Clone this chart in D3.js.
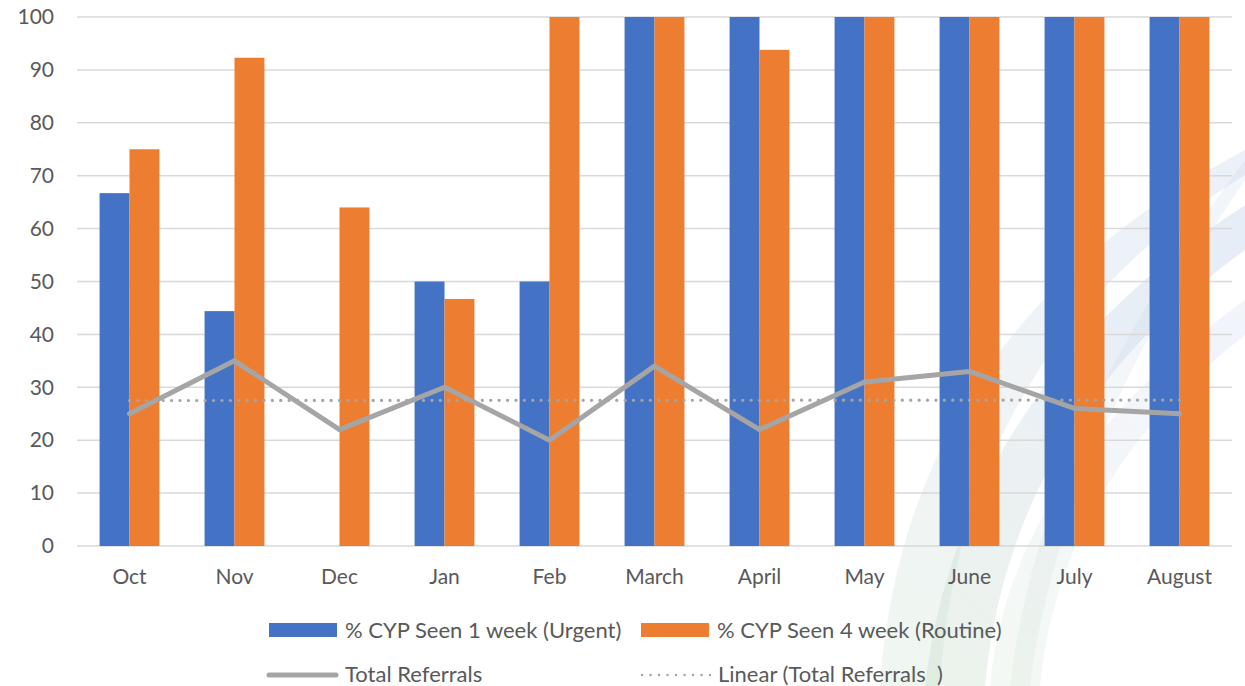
<!DOCTYPE html>
<html>
<head>
<meta charset="utf-8">
<script src="https://cdn.jsdelivr.net/npm/d3@7/dist/d3.min.js"></script>
<style>
  html, body { margin: 0; padding: 0; background: #fff; }
  svg { display: block; }
  text { font-family: Lato, "Open Sans", sans-serif; fill: #595959; }
</style>
</head>
<body>
<svg id="chart" width="1245" height="686"></svg>
<script>
const categories = ["Oct", "Nov", "Dec", "Jan", "Feb", "March", "April", "May", "June", "July", "August"];
const urgent = [66.7, 44.4, 0, 50, 50, 100, 100, 100, 100, 100, 100];
const routine = [75, 92.3, 64, 46.7, 100, 100, 93.8, 100, 100, 100, 100];
const referrals = [25, 35, 22, 30, 20, 34, 22, 31, 33, 26, 25];
const yTicks = [0, 10, 20, 30, 40, 50, 60, 70, 80, 90, 100];
const seriesNames = ["% CYP Seen 1 week (Urgent)", "% CYP Seen 4 week (Routine)"];
const lineNames = ["Total Referrals", "Linear (Total Referrals  )"];

const W = 1245, H = 686;
const svg = d3.select("#chart");

// decorative background swooshes
const defs = svg.append("defs");
const grad = defs.append("linearGradient").attr("id", "sw").attr("x1", 0).attr("y1", 1).attr("x2", 0.6).attr("y2", 0);
grad.append("stop").attr("offset", "0%").attr("stop-color", "#b9d6b9");
grad.append("stop").attr("offset", "55%").attr("stop-color", "#b8cbd8");
grad.append("stop").attr("offset", "100%").attr("stop-color", "#a9bfe3");
const bg = svg.append("g");
const swooshes = [
  {d: "M880,686 Q905,330 1245,150 L1245,175 Q960,350 940,686 Z", o: 0.22},
  {d: "M925,686 Q960,390 1245,205 L1245,250 Q1010,420 985,686 Z", o: 0.28},
  {d: "M990,686 Q1010,470 1245,300 L1245,335 Q1060,480 1040,686 Z", o: 0.16},
  {d: "M1010,686 Q1040,430 1245,160 L1245,180 Q1060,450 1030,686 Z", o: 0.15}
];
bg.selectAll("path").data(swooshes).join("path")
  .attr("d", d => d.d).attr("fill", "url(#sw)").attr("opacity", d => d.o);

const x0 = d3.scaleBand().domain(categories).range([77, 1232]).paddingInner(0.43).paddingOuter(0.215);
const x1 = d3.scaleBand().domain([0, 1]).range([0, x0.bandwidth()]);
const y = d3.scaleLinear().domain([0, 100]).range([546, 17]);

// gridlines
svg.append("g").selectAll("line").data(yTicks).join("line")
  .attr("x1", 77).attr("x2", 1232)
  .attr("y1", d => y(d)).attr("y2", d => y(d))
  .attr("stroke", "#d9d9d9").attr("stroke-width", 1.5);

// y axis labels
const yAxis = d3.axisLeft(y).tickValues(yTicks).tickSize(0).tickPadding(0);
const ya = svg.append("g").attr("transform", "translate(54,0)").call(yAxis);
ya.select(".domain").remove();
ya.selectAll("text").attr("font-size", 21).attr("fill", "#595959").style("font-family", "Lato, sans-serif");

// bars
const colors = ["#4472C4", "#ED7D31"];
const seriesData = [urgent, routine];
const bars = svg.append("g");
seriesData.forEach((vals, si) => {
  bars.selectAll(".s" + si).data(vals).join("rect")
    .attr("class", "s" + si)
    .attr("x", (d, i) => x0(categories[i]) + x1(si))
    .attr("width", x1.bandwidth())
    .attr("y", d => y(d))
    .attr("height", d => y(0) - y(d))
    .attr("fill", colors[si]);
});

// x axis labels
const xAxis = d3.axisBottom(x0).tickSize(0).tickPadding(0);
const xa = svg.append("g").attr("transform", "translate(0,584)").call(xAxis);
xa.select(".domain").remove();
xa.selectAll("text").attr("font-size", 21).attr("fill", "#595959").attr("dy", "0").style("font-family", "Lato, sans-serif");

// trend line (linear regression)
const n = referrals.length;
const xs = d3.range(n);
const mx = d3.mean(xs), my = d3.mean(referrals);
const slope = d3.sum(xs, i => (i - mx) * (referrals[i] - my)) / d3.sum(xs, i => (i - mx) ** 2);
const icpt = my - slope * mx;
const cx = i => x0(categories[i]) + x0.bandwidth() / 2;
svg.append("line")
  .attr("x1", cx(0)).attr("x2", cx(n - 1))
  .attr("y1", y(icpt)).attr("y2", y(icpt + slope * (n - 1)))
  .attr("stroke", "#A5A5A5").attr("stroke-width", 3.2)
  .attr("stroke-dasharray", "0.1 8.3").attr("stroke-linecap", "round");

// referrals line
const line = d3.line().x((d, i) => cx(i)).y(d => y(d));
svg.append("path").datum(referrals).attr("d", line)
  .attr("fill", "none").attr("stroke", "#A5A5A5").attr("stroke-width", 5)
  .attr("stroke-linejoin", "round").attr("stroke-linecap", "round");

// legend
const lg = svg.append("g");
lg.append("rect").attr("x", 269).attr("y", 623).attr("width", 68).attr("height", 14).attr("fill", colors[0]);
lg.append("text").attr("x", 345).attr("y", 638).attr("font-size", 22).text(seriesNames[0]);
lg.append("rect").attr("x", 641).attr("y", 623).attr("width", 68).attr("height", 14).attr("fill", colors[1]);
lg.append("text").attr("x", 717).attr("y", 638).attr("font-size", 22).text(seriesNames[1]);
lg.append("line").attr("x1", 269).attr("x2", 336).attr("y1", 675).attr("y2", 675)
  .attr("stroke", "#A5A5A5").attr("stroke-width", 5).attr("stroke-linecap", "round");
lg.append("text").attr("x", 345).attr("y", 682).attr("font-size", 22).text(lineNames[0]);
lg.append("line").attr("x1", 642).attr("x2", 710).attr("y1", 675).attr("y2", 675)
  .attr("stroke", "#A5A5A5").attr("stroke-width", 2.4)
  .attr("stroke-dasharray", "0.1 8.4").attr("stroke-linecap", "round");
lg.append("text").attr("x", 718).attr("y", 682).attr("font-size", 22).style("white-space", "pre").text(lineNames[1]);
</script>
</body>
</html>
